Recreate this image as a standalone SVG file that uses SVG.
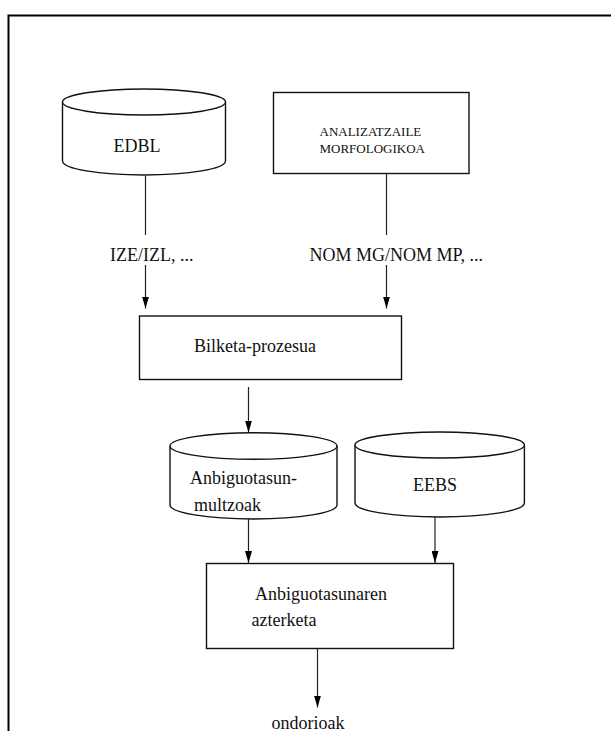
<svg xmlns="http://www.w3.org/2000/svg" width="611" height="731" viewBox="0 0 611 731">
<defs>
<marker id="ah" markerWidth="12" markerHeight="7" refX="12" refY="3.5" orient="auto" markerUnits="userSpaceOnUse" viewBox="0 0 12 7">
<path d="M0,0 L12,3.5 L0,7 Z" fill="#000"/>
</marker>
<style>
.t{font-family:"Liberation Serif","Times New Roman",serif;font-size:18px;fill:#111}
.s{font-family:"Liberation Serif","Times New Roman",serif;font-size:13px;fill:#111}
.box{fill:#fff;stroke:#111;stroke-width:1.4}
.cyl{fill:#fff;stroke:#111;stroke-width:1.4}
.ln{stroke:#222;stroke-width:1.2;fill:none}
</style>
</defs>
<rect x="0" y="0" width="611" height="731" fill="#fff"/>
<path d="M8.5,731 L8.5,15.5 L611,15.5" fill="none" stroke="#000" stroke-width="2"/>

<g id="edbl">
<path class="cyl" d="M62.5,102 L62.5,161 A81.5,14 0 0 0 225.5,161 L225.5,102"/>
<ellipse class="cyl" cx="144" cy="102" rx="81.5" ry="13"/>
<text class="t" x="137" y="152" text-anchor="middle">EDBL</text>
</g>

<g id="analizatzaile">
<rect class="box" x="273.5" y="92.5" width="195.5" height="81"/>
<text class="s" x="319.5" y="136">ANALIZATZAILE</text>
<text class="s" x="319.5" y="152.5">MORFOLOGIKOA</text>
</g>

<g id="bilketa">
<rect class="box" x="139.5" y="316" width="262" height="63.5"/>
<text class="t" x="194" y="352">Bilketa-prozesua</text>
</g>

<g id="multzoak">
<path class="cyl" d="M170,446 L170,505 A83.5,14 0 0 0 337,505 L337,446"/>
<ellipse class="cyl" cx="253.5" cy="446" rx="83.5" ry="13.3"/>
<text class="t" x="190" y="484">Anbiguotasun-</text>
<text class="t" x="194" y="511">multzoak</text>
</g>

<g id="eebs">
<path class="cyl" d="M355,445 L355,503 A84.7,14 0 0 0 524.4,503 L524.4,445"/>
<ellipse class="cyl" cx="439.7" cy="445" rx="84.7" ry="13"/>
<text class="t" x="435" y="491" text-anchor="middle">EEBS</text>
</g>

<g id="azterketa">
<rect class="box" x="206.5" y="563.5" width="247" height="85"/>
<text class="t" x="255" y="599.5">Anbiguotasunaren</text>
<text class="t" x="251.5" y="626">azterketa</text>
</g>

<g id="ondorioak">
<text class="t" x="271.5" y="728.5">ondorioak</text>
</g>

<g id="connectors">
<line class="ln" x1="145.5" y1="176" x2="145.5" y2="235"/>
<text class="t" x="110" y="261">IZE/IZL, ...</text>
<line class="ln" x1="145.5" y1="265" x2="145.5" y2="308.5" marker-end="url(#ah)"/>
<line class="ln" x1="386.5" y1="174" x2="386.5" y2="235"/>
<text class="t" x="309.5" y="261">NOM MG/NOM MP, ...</text>
<line class="ln" x1="386.5" y1="265" x2="386.5" y2="308.5" marker-end="url(#ah)"/>
<line class="ln" x1="248.5" y1="387" x2="248.5" y2="432.5" marker-end="url(#ah)"/>
<line class="ln" x1="248.5" y1="519" x2="248.5" y2="563" marker-end="url(#ah)"/>
<line class="ln" x1="435" y1="517" x2="435" y2="563" marker-end="url(#ah)"/>
<line class="ln" x1="317.5" y1="648.5" x2="317.5" y2="707.5" marker-end="url(#ah)"/>
</g>
</svg>
